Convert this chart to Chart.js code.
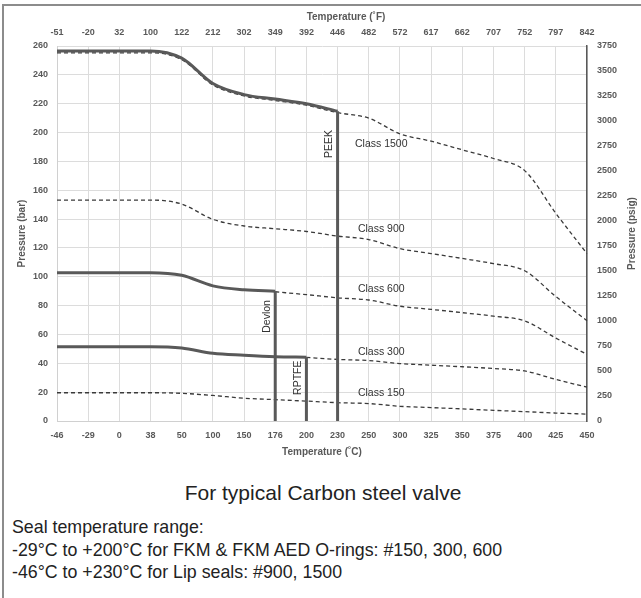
<!DOCTYPE html>
<html>
<head>
<meta charset="utf-8">
<script src="https://cdn.jsdelivr.net/npm/chart.js@4/dist/chart.umd.min.js"></script>
<style>
  body { margin: 0; background: #fff; font-family: "Liberation Sans", Arial, sans-serif; }
  #frame { position: absolute; left: 2px; top: 4px; width: 680px; height: 640px;
           border-left: 2px solid #8c8c8c; border-top: 2px solid #8c8c8c; }
  #chart { position: absolute; left: 0; top: 0; }
  #titulo { position: absolute; left: 0; top: 480px; width: 646px; text-align: center;
            font-size: 21px; line-height: 26px; color: #222; }
  #notas { position: absolute; left: 12px; top: 516px; font-size: 17.8px; line-height: 22.5px; color: #222; }
</style>
</head>
<body>
<div id="frame"></div>
<canvas id="chart" width="641" height="465"></canvas>
<div id="titulo">For typical Carbon steel valve</div>
<div id="notas">
  Seal temperature range:<br>
  -29°C to +200°C for FKM &amp; FKM AED O-rings: #150, 300, 600<br>
  -46°C to +230°C for Lip seals: #900, 1500
</div>
<script>
// categorias (eje inferior en C, eje superior en F)
const tempC = ['-46', '-29', '0', '38', '50', '100', '150', '176', '200', '230',
               '250', '300', '325', '350', '375', '400', '425', '450'];
const tempF = ['-51', '-20', '32', '100', '122', '212', '302', '349', '392', '446',
               '482', '572', '617', '662', '707', '752', '797', '842'];

// presion por clase (bar), lineas punteadas
const class1500 = [255.3, 255.3, 255.3, 255.3, 250.6, 233.0, 225.4, 222.2, 219.0, 213.8,
                   210.0, 199.1, 194.0, 188.0, 182.0, 173.6, 144.0, 116.0];
const class900 = [153.2, 153.2, 153.2, 153.2, 150.4, 139.8, 135.2, 133.3, 131.4, 128.2,
                  125.8, 119.5, 116.1, 112.7, 109.1, 104.2, 86.3, 69.5];
const class600 = [null, null, null, null, null, null, null, 89.6, 87.6, 85.4,
                  83.9, 79.6, 77.4, 75.1, 72.7, 69.4, 57.5, 46.2];
const class300 = [null, null, null, null, null, null, null, null, 44.1, 42.7,
                  41.9, 39.8, 38.7, 37.6, 36.4, 34.7, 28.8, 23.5];
const class150 = [19.6, 19.6, 19.6, 19.6, 19.2, 17.7, 15.8, 14.8, 13.8, 12.7,
                  12.1, 10.2, 9.3, 8.4, 7.4, 6.5, 5.5, 4.8];

// limites de los sellos (bar), lineas solidas
const peek = [256.6, 256.6, 256.6, 256.6, 251.6, 234.0, 226.3, 223.2, 220.0, 214.8];
const devlon = [102.8, 102.8, 102.8, 102.8, 101.0, 93.7, 91.0, 90.0];
const rptfe = [51.5, 51.5, 51.5, 51.5, 50.6, 46.9, 45.6, 44.6, 44.2];

const classNames = ['Class 1500', 'Class 900', 'Class 600', 'Class 300', 'Class 150'];
const sealNames = ['PEEK', 'Devlon', 'RPTFE'];

const gris = '#595959';
const fuente = '"Liberation Sans", Arial, sans-serif';

// bajada vertical al final de cada sello
function bajada(valores) {
  const i = valores.length - 1;
  return [{ x: tempC[i], y: valores[i] }, { x: tempC[i], y: 0 }];
}

function punteada(data) {
  return { data, borderColor: '#3a3a3a', borderWidth: 1.3, borderDash: [4, 3],
           pointRadius: 0, cubicInterpolationMode: 'monotone', order: 2 };
}
function solida(data, suave) {
  const ds = { data, borderColor: gris, borderWidth: 3, pointRadius: 0, order: 1 };
  if (suave) ds.cubicInterpolationMode = 'monotone';
  return ds;
}

// textos dentro del grafico
const textosPlugin = {
  id: 'textos',
  afterDatasetsDraw(chart) {
    const { ctx, chartArea, scales } = chart;
    const x = scales.x, y = scales.y;
    ctx.save();
    ctx.fillStyle = '#333';
    ctx.textAlign = 'center';
    ctx.textBaseline = 'middle';
    ctx.font = '10.5px ' + fuente;
    const alturas = [191.7, 132.9, 91.3, 47.8, 19.4];
    classNames.forEach((t, k) => {
      ctx.fillText(t, x.getPixelForValue(10.4), y.getPixelForValue(alturas[k]));
    });
    const sellos = [[peek, 192], [devlon, 72.5], [rptfe, 30]];
    sellos.forEach(([vals, h], k) => {
      ctx.save();
      ctx.translate(x.getPixelForValue(vals.length - 1) - 8, y.getPixelForValue(h));
      ctx.rotate(-Math.PI / 2);
      ctx.fillText(sealNames[k], 0, 0);
      ctx.restore();
    });

    // titulos de ejes
    ctx.fillStyle = gris;
    ctx.font = 'bold 10px ' + fuente;
    const cx = (chartArea.left + chartArea.right) / 2;
    const cy = (chartArea.top + chartArea.bottom) / 2;
    ctx.fillText('Temperature (˚C)', cx, 452);
    ctx.fillText('Temperature (˚F)', cx + 24, 17);
    ctx.save();
    ctx.translate(22, cy);
    ctx.rotate(-Math.PI / 2);
    ctx.fillText('Pressure (bar)', 0, 0);
    ctx.restore();
    ctx.save();
    ctx.translate(632, cy);
    ctx.rotate(-Math.PI / 2);
    ctx.fillText('Pressure (psig)', 0, 0);
    ctx.restore();
    ctx.restore();
  }
};

const ticksBase = { color: gris, font: { family: fuente, size: 9, weight: 'bold' },
                    maxRotation: 0, autoSkip: false };

new Chart(document.getElementById('chart'), {
  type: 'line',
  data: {
    labels: tempC,
    datasets: [
      punteada(class1500),
      punteada(class900),
      punteada(class600),
      punteada(class300),
      punteada(class150),
      solida(peek, true),
      solida(devlon, true),
      solida(rptfe, true),
      solida(bajada(peek), false),
      solida(bajada(devlon), false),
      solida(bajada(rptfe), false)
    ]
  },
  options: {
    responsive: false,
    animation: false,
    layout: { padding: 0 },
    plugins: { legend: { display: false }, tooltip: { enabled: false } },
    scales: {
      x: {
        position: 'bottom',
        grid: { color: '#dcdcdc', drawTicks: false },
        border: { color: '#d0d0d0' },
        ticks: { ...ticksBase, padding: 9 },
        afterFit: s => { s.height = 44; }
      },
      x2: {
        type: 'category',
        labels: tempF,
        position: 'top',
        grid: { display: false, drawTicks: false },
        border: { display: false },
        ticks: { ...ticksBase, padding: 8 },
        afterFit: s => { s.height = 46; }
      },
      y: {
        position: 'left',
        min: 0, max: 260,
        grid: { color: '#dcdcdc', drawTicks: false },
        border: { color: '#d0d0d0' },
        ticks: { ...ticksBase, stepSize: 20, padding: 9 },
        afterFit: s => { s.width = 57; }
      },
      y2: {
        position: 'right',
        min: 0, max: 3750,
        grid: { display: false, drawTicks: false },
        border: { color: gris, width: 1.5 },
        ticks: { ...ticksBase, stepSize: 250, padding: 10, callback: v => String(v) },
        afterFit: s => { s.width = 54; }
      }
    }
  },
  plugins: [textosPlugin]
});
</script>
</body>
</html>
